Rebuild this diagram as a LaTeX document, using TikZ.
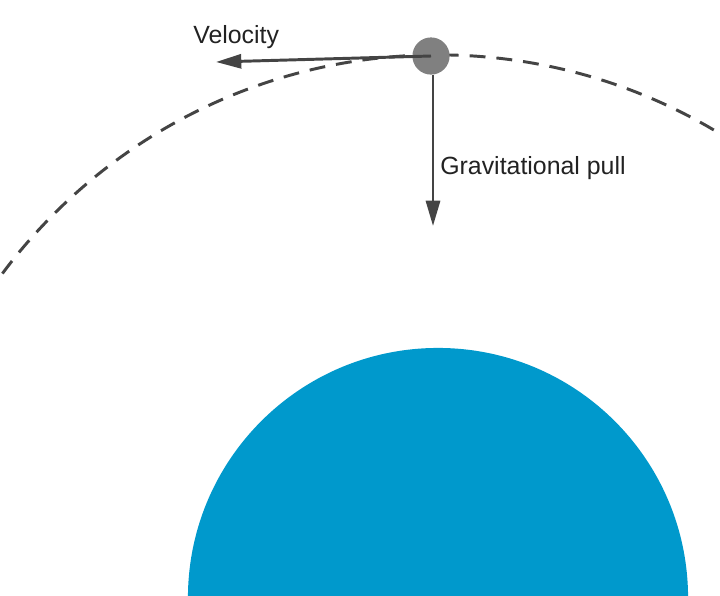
\documentclass[tikz,border=0pt]{standalone}
\usepackage{fontspec}
\setmainfont{Liberation Sans}
\usepackage{xcolor}
\usetikzlibrary{arrows.meta, positioning}

\definecolor{planetblue}{RGB}{0,153,204}
\definecolor{vecgray}{RGB}{68,68,68}
\definecolor{satgray}{RGB}{128,128,128}
\definecolor{labelgray}{RGB}{34,34,34}

\begin{document}
\begin{tikzpicture}[x=0.025cm, y=-0.025cm,
  planet/.style={circle, fill=planetblue, draw=none, inner sep=0pt, minimum size=12.5cm},
  orbit/.style={circle, draw=vecgray, line width=2.1pt, dash pattern=on 11.3pt off 7.8pt, inner sep=0pt, minimum size=27.15cm},
  sat/.style={circle, fill=satgray, draw=none, inner sep=0pt, minimum size=0.93cm},
  vector/.style={-{Triangle[length=18pt,width=10pt]}, draw=vecgray, fill=vecgray, line width=2.1pt},
  label/.style={anchor=base west, inner sep=0pt, text=labelgray, font=\fontsize{17.7}{21}\selectfont}
]
  \useasboundingbox (0,0) rectangle (720,595);
  \clip (0,0) rectangle (720,595);

  \node[planet] (planet) at (438,598) {};
  \node[orbit] (orbit) at (438,598) {};
  \node[sat] (sat) at (431,56) {};

  \coordinate (vtip) at (216,62);
  \coordinate (gtip) at (433,226);

  \draw[vector] (sat.center) -- (vtip);
  \draw[vector] (sat.south -| gtip) -- (gtip);

  \node[label] (vlabel) at (193,43) {Velocity};
  \node[label] (glabel) at (440,174) {Gravitational pull};
\end{tikzpicture}
\end{document}
